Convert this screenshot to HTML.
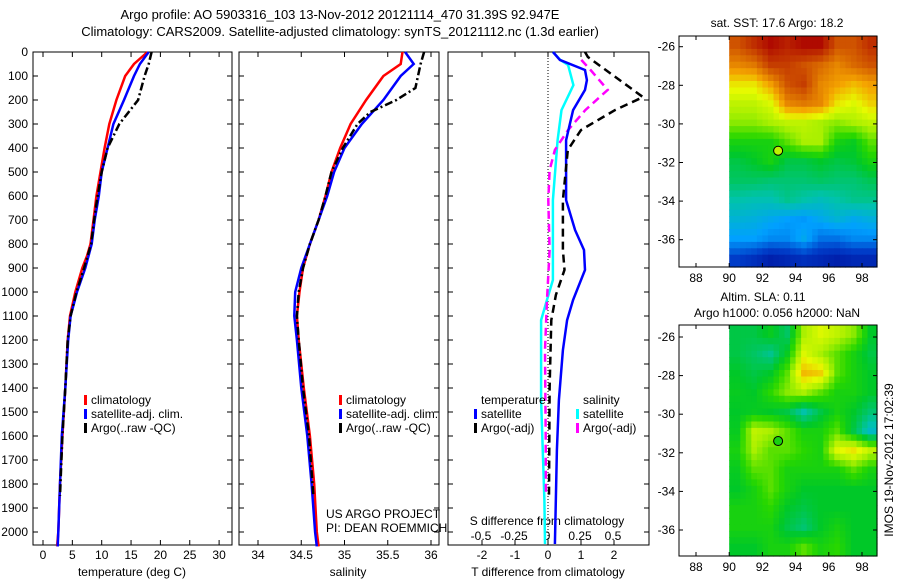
<!DOCTYPE html>
<html><head><meta charset="utf-8"><style>
body{margin:0;background:#fff}
svg{display:block;font-family:"Liberation Sans",sans-serif;font-size:12px}
</style></head><body>
<svg id="s" width="900" height="580" xmlns="http://www.w3.org/2000/svg">
<text x="340" y="19" text-anchor="middle" font-size="13">Argo profile: AO 5903316_103 13-Nov-2012 20121114_470 31.39S 92.947E</text>
<text x="340" y="36" text-anchor="middle" font-size="13">Climatology: CARS2009. Satellite-adjusted climatology: synTS_20121112.nc (1.3d earlier)</text>
<g id="g"></g>
</svg>
<script>
// ---- data ----
const depthTicks=[0,100,200,300,400,500,600,700,800,900,1000,1100,1200,1300,1400,1500,1600,1700,1800,1900,2000];
const tempTicks=[0,5,10,15,20,25,30];
const salTicks=[34,34.5,35,35.5,36];
const tdTicks=[-2,-1,0,1,2];
const sdTicks=[-0.5,-0.25,0,0.25,0.5];
const climT=[[0,17.8],[50,15.5],[100,14],[200,12.5],[300,11.3],[400,10.5],[500,9.8],[600,9.1],[700,8.6],[800,8.1],[850,7.5],[900,6.7],[1000,5.5],[1100,4.6],[1200,4.2],[1400,3.8],[1600,3.3],[1800,2.9],[2000,2.6],[2060,2.4]];
const satT=[[0,18],[50,16.5],[100,15.5],[200,13.8],[300,12],[400,11],[500,10],[600,9.5],[700,8.8],[800,8.3],[900,7.2],[1000,5.8],[1100,4.7],[1200,4.3],[1400,3.8],[1600,3.2],[1800,2.9],[2000,2.6],[2060,2.5]];
const argoT=[[0,18.5],[50,18],[100,17.3],[200,16.2],[300,13],[400,11],[500,10],[600,9.3],[700,8.7],[800,8.2],[900,7],[1000,5.7],[1100,4.7],[1200,4.2],[1400,3.8],[1600,3.3],[1850,2.9]];
const climS=[[0,35.67],[50,35.65],[100,35.45],[200,35.25],[300,35.07],[400,34.95],[500,34.85],[600,34.78],[700,34.7],[800,34.6],[900,34.52],[1000,34.48],[1100,34.45],[1200,34.47],[1400,34.53],[1600,34.6],[1800,34.65],[2000,34.68],[2060,34.7]];
const satS=[[0,35.7],[50,35.8],[100,35.65],[200,35.45],[300,35.2],[400,35.0],[500,34.88],[600,34.8],[700,34.7],[800,34.6],[900,34.5],[1000,34.43],[1100,34.42],[1200,34.45],[1400,34.5],[1600,34.57],[1800,34.62],[2000,34.66],[2060,34.68]];
const argoS=[[0,35.92],[50,35.88],[100,35.85],[150,35.82],[200,35.6],[250,35.3],[300,35.15],[400,34.98],[500,34.85],[600,34.78],[700,34.7],[800,34.6],[900,34.52],[1000,34.47],[1100,34.45],[1200,34.47],[1400,34.52],[1600,34.59],[1850,34.64]];
const satTd=[[0,0.15],[33,0.36],[75,1.12],[117,1.18],[158,1.12],[242,0.76],[367,0.55],[617,0.55],[742,0.82],[825,1.09],[908,1.12],[1033,0.76],[1117,0.58],[1242,0.45],[1450,0.33],[1658,0.27],[2050,0.21]];
const argoTd=[[0,1.12],[21,1.21],[188,2.88],[242,2.03],[325,1.0],[408,0.6],[617,0.45],[825,0.45],[908,0.5],[1012,0.24],[1117,0.1],[1400,0.05],[1850,0.03]];
const satSd=[[0,0.045],[33,0.1],[54,0.16],[138,0.2],[242,0.11],[367,0.08],[617,0.045],[950,0.045],[1033,0],[1117,-0.045],[1450,-0.045],[1867,-0.02],[2050,-0.015]];
const argoSd=[[33,0.26],[75,0.33],[158,0.46],[242,0.29],[325,0.16],[408,0.06],[492,0.02],[617,0.01],[825,0.02],[1033,0],[1242,-0.015],[1600,-0.01],[1850,-0.008]];
const sstGrid=[
[0.85,0.9,0.95,0.92,0.95,0.95,0.85,0.85,0.9],
[0.78,0.8,0.88,0.88,0.85,0.82,0.78,0.82,0.85],
[0.68,0.68,0.75,0.85,0.88,0.78,0.75,0.72,0.75],
[0.62,0.62,0.65,0.78,0.8,0.78,0.68,0.65,0.7],
[0.58,0.58,0.6,0.62,0.62,0.6,0.58,0.6,0.62],
[0.5,0.5,0.5,0.55,0.6,0.6,0.5,0.48,0.55],
[0.45,0.47,0.5,0.45,0.45,0.47,0.45,0.46,0.5],
[0.43,0.43,0.42,0.42,0.42,0.43,0.42,0.42,0.44],
[0.38,0.37,0.37,0.4,0.38,0.36,0.38,0.4,0.4],
[0.33,0.32,0.3,0.28,0.27,0.3,0.33,0.3,0.32],
[0.28,0.28,0.25,0.25,0.3,0.22,0.22,0.25,0.25],
[0.15,0.12,0.08,0.1,0.12,0.1,0.08,0.1,0.1]];
const slaGrid=[
[0.45,0.45,0.48,0.43,0.6,0.65,0.62,0.58,0.47],
[0.45,0.43,0.4,0.48,0.65,0.6,0.55,0.5,0.45],
[0.47,0.45,0.47,0.55,0.72,0.7,0.55,0.5,0.47],
[0.48,0.47,0.52,0.58,0.6,0.55,0.5,0.5,0.47],
[0.47,0.48,0.47,0.45,0.38,0.45,0.5,0.47,0.42],
[0.48,0.62,0.6,0.55,0.5,0.5,0.55,0.45,0.35],
[0.5,0.6,0.55,0.55,0.52,0.5,0.65,0.68,0.62],
[0.48,0.55,0.55,0.5,0.5,0.5,0.5,0.55,0.5],
[0.47,0.5,0.55,0.5,0.47,0.47,0.47,0.47,0.47],
[0.5,0.5,0.52,0.47,0.45,0.47,0.47,0.47,0.47],
[0.5,0.5,0.5,0.45,0.42,0.47,0.5,0.47,0.47],
[0.47,0.47,0.5,0.5,0.55,0.5,0.52,0.47,0.47]];
const lonTicks=[88,90,92,94,96,98];
const latTicks=[-26,-28,-30,-32,-34,-36];
const argoLon=92.947, argoLat=-31.39;

// ---- helpers ----
const NS="http://www.w3.org/2000/svg", G=document.getElementById('g');
function el(t,a,txt){const e=document.createElementNS(NS,t);for(const k in a)e.setAttribute(k,a[k]);if(txt!==undefined)e.textContent=txt;G.appendChild(e);return e;}
const Y0=52,Y1=545;
const yD=d=>Y0+d*0.24;
const xT=v=>43+v*5.87, xS=v=>258+(v-34)*86.5, xTd=v=>548+v*33, xSd=v=>547+v*132;
function box(x0,x1,y0,y1,name){const e=el('rect',{x:x0,y:y0,width:x1-x0,height:y1-y0,fill:'none',stroke:'#000','stroke-width':1});
}
function line(data,fx,col,dash,name){const p=data.map(d=>fx(d[1]).toFixed(1)+','+yD(d[0]).toFixed(1)).join(' ');
const a={points:p,fill:'none',stroke:col,'stroke-width':2.5};if(dash)a['stroke-dasharray']=dash;
const e=el('polyline',a);}
function txt(x,y,s,anchor,name,extra){const a={x:x,y:y,'text-anchor':anchor||'start'};Object.assign(a,extra||{});const e=el('text',a,s);
return e;}
function tick(x1,y1,x2,y2){const e=el('line',{x1,y1,x2,y2,stroke:'#000','stroke-width':1});}

const panels=[[33,232],[239,439],[448,649]];
panels.forEach((p,i)=>{box(p[0],p[1],Y0,Y1,'profile-panel-'+(i+1));
 depthTicks.forEach(d=>{tick(p[0],yD(d),p[0]+5,yD(d));tick(p[1],yD(d),p[1]-5,yD(d));});});
depthTicks.forEach(d=>txt(28,yD(d)+4,String(d),'end','depth-tick-label'));
tempTicks.forEach(v=>{tick(xT(v),Y1,xT(v),Y1-5);tick(xT(v),Y0,xT(v),Y0+5);txt(xT(v),559,String(v),'middle','temp-tick-label');});
salTicks.forEach(v=>{tick(xS(v),Y1,xS(v),Y1-5);tick(xS(v),Y0,xS(v),Y0+5);txt(xS(v),559,String(v),'middle','salinity-tick-label');});
tdTicks.forEach(v=>{tick(xTd(v),Y1,xTd(v),Y1-5);tick(xTd(v),Y0,xTd(v),Y0+5);txt(xTd(v),559,String(v),'middle','tdiff-tick-label');});
sdTicks.forEach(v=>txt(xSd(v),540,String(v),'middle','sdiff-tick-label'));
txt(132,576,'temperature (deg C)','middle','temperature-axis-title');
txt(348,576,'salinity','middle','salinity-axis-title');
txt(548,576,'T difference from climatology','middle','tdiff-axis-title');
txt(547,525,'S difference from climatology','middle','sdiff-axis-title');
txt(326,518,'US ARGO PROJECT','start','project-label');
txt(326,532,'PI: DEAN ROEMMICH','start','pi-label');
const z=el('line',{x1:548,y1:Y0,x2:548,y2:Y1,stroke:'#000','stroke-width':1,'stroke-dasharray':'1,2'});


line(climT,xT,'#f00',null,'temp-climatology-line');
line(satT,xT,'#00f',null,'temp-satellite-line');
line(argoT,xT,'#000','8,3,2,3','temp-argo-line');
line(climS,xS,'#f00',null,'sal-climatology-line');
line(satS,xS,'#00f',null,'sal-satellite-line');
line(argoS,xS,'#000','8,3,2,3','sal-argo-line');
line(satSd,xSd,'#0ff',null,'sdiff-satellite-line');
line(argoSd,xSd,'#f0f','8,5','sdiff-argo-line');
line(satTd,xTd,'#00f',null,'tdiff-satellite-line');
line(argoTd,xTd,'#000','8,5','tdiff-argo-line');

function leg(x,y,col,s,name){const r=el('rect',{x:x,y:y-9,width:3,height:10,fill:col});txt(x+7,y,s,'start',name);}
[[84,91],[339,344]].forEach((q,i)=>{leg(q[0],404,'#f00','climatology','legend-climatology');leg(q[0],418,'#00f','satellite-adj. clim.','legend-satellite');leg(q[0],432,'#000','Argo(..raw -QC)','legend-argo');});
txt(481,404,'temperature','start','legend-temperature-header');
leg(474,418,'#00f','satellite','legend-tdiff-satellite');
leg(474,432,'#000','Argo(-adj)','legend-tdiff-argo');
txt(583,404,'salinity','start','legend-salinity-header');
leg(576,418,'#0ff','satellite','legend-sdiff-satellite');
leg(576,432,'#f0f','Argo(-adj)','legend-sdiff-argo');

// maps
const cmapStops=[[0,[0,0,140]],[0.15,[0,60,200]],[0.28,[0,160,255]],[0.38,[0,195,170]],[0.47,[0,200,40]],[0.52,[40,215,0]],[0.6,[170,240,0]],[0.66,[230,250,0]],[0.74,[245,165,0]],[0.84,[210,90,0]],[0.95,[175,10,0]],[1,[150,0,0]]];
function cmap(v){v=Math.max(0,Math.min(1,v));for(let i=1;i<cmapStops.length;i++){const a=cmapStops[i-1],b=cmapStops[i];if(v<=b[0]){const t=(v-a[0])/(b[0]-a[0]);return 'rgb('+a[1].map((c,k)=>Math.round(c+(b[1][k]-c)*t)).join(',')+')';}}return 'rgb(150,0,0)';}
const xL=lon=>696+(lon-88)*16.6;
function sample(grid,r,c){const R=grid.length-1,C=grid[0].length-1;r=Math.max(0,Math.min(R,r));c=Math.max(0,Math.min(C,c));
 const r0=Math.floor(r),c0=Math.floor(c),r1=Math.min(R,r0+1),c1=Math.min(C,c0+1),fr=r-r0,fc=c-c0;
 return grid[r0][c0]*(1-fr)*(1-fc)+grid[r0][c1]*(1-fr)*fc+grid[r1][c0]*fr*(1-fc)+grid[r1][c1]*fr*fc;}
function map(grid,top,lat26,name){const yL=lat=>lat26+(-26-lat)*19.3;const bot=top+231;
 const latTop=-26+(lat26-top)/19.3;const sub=3;
 const nR=grid.length*sub,nC=grid[0].length*sub;
 for(let i=0;i<nR;i++)for(let j=0;j<nC;j++){
  const la=latTop-i/sub, lo=90+j/sub;
  const x0=xL(lo), x1=Math.min(877,xL(lo+1/sub)), y0=yL(la), y1=Math.min(bot,yL(la-1/sub));
  if(x0>=877||y0>=bot)continue;
  const v=sample(grid,(i+0.5)/sub-0.5,(j+0.5)/sub-0.5);
  const r=el('rect',{x:x0.toFixed(1),y:y0.toFixed(1),width:(x1-x0+0.6).toFixed(1),height:(y1-y0+0.6).toFixed(1),fill:cmap(v)});
  
 }
 if(yL(latTop-grid.length)<bot){const r=el('rect',{x:xL(90),y:yL(latTop-grid.length),width:877-xL(90),height:bot-yL(latTop-grid.length),fill:cmap(grid[grid.length-1][0])});}
 box(679,877,top,bot,name);
 lonTicks.forEach(l=>{tick(xL(l),bot,xL(l),bot-4);tick(xL(l),top,xL(l),top+4);txt(xL(l),bot+15,String(l),'middle',name+'-lon-label');});
 latTicks.forEach(l=>{tick(679,yL(l),683,yL(l));tick(877,yL(l),873,yL(l));txt(675,yL(l)+4,String(l),'end',name+'-lat-label');});
 const c=el('circle',{cx:xL(argoLon),cy:yL(argoLat),r:4.5,fill:cmap(name=='sst-map'?0.62:0.5),stroke:'#000','stroke-width':1});
 }
map(sstGrid,36,46.7,'sst-map');
map(slaGrid,325,337,'sla-map');
txt(777,27,'sat. SST: 17.6 Argo: 18.2','middle','sst-map-title');
txt(763,301,'Altim. SLA: 0.11','middle','sla-map-title-1');
txt(777,317,'Argo h1000: 0.056 h2000: NaN','middle','sla-map-title-2');
txt(893,460,'IMOS 19-Nov-2012 17:02:39','middle','imos-timestamp',{transform:'rotate(-90 893 460)'});
</script>
</body></html>
